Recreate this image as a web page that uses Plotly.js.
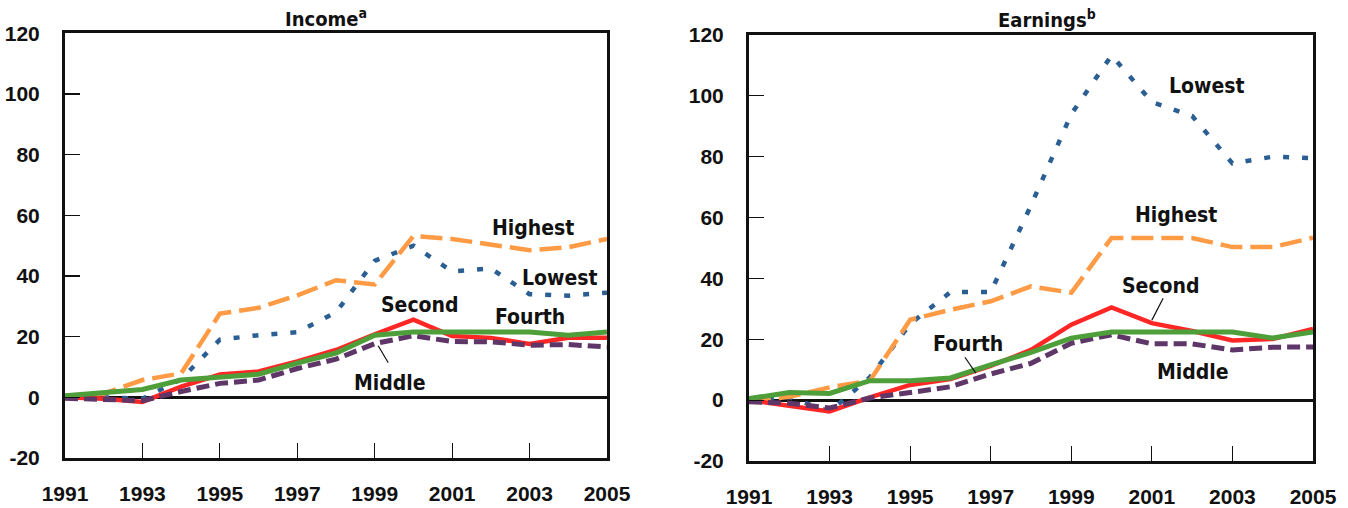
<!DOCTYPE html>
<html>
<head>
<meta charset="utf-8">
<script src="https://cdn.plot.ly/plotly-3.0.1.min.js"></script>
<style>html,body{margin:0;padding:0;background:#fff;}#chart{width:1348px;height:508px;}</style>
</head>
<body>
<div id="chart"></div>
<script>
const years = [1991,1992,1993,1994,1995,1996,1997,1998,1999,2000,2001,2002,2003,2004,2005];

// Income panel
const incomeLowest  = [0, 0, -0.5, 6, 19, 20.5, 21.5, 28, 45, 50, 41.5, 42.5, 34, 33.5, 34.5];
const incomeSecond  = [0, -0.5, -1.5, 3.5, 7.5, 8.5, 11.8, 15.6, 20.8, 25.6, 20.2, 19.6, 17.6, 19.6, 19.6];
const incomeMiddle  = [-0.3, -0.5, -1.1, 1.9, 4.6, 5.7, 9.5, 12.6, 17.7, 20.3, 18.4, 18.3, 17.2, 17.4, 16.6];
const incomeFourth  = [0.5, 1.5, 2.6, 5.7, 6.8, 7.6, 11.3, 14.6, 20.5, 21.5, 21.5, 21.5, 21.5, 20.5, 21.5];
const incomeHighest = [-0.3, 1.2, 5.7, 7.9, 27.6, 29.5, 33.6, 38.6, 37.2, 53.2, 52.2, 50.2, 48.5, 49.5, 52.2];

// Earnings panel
const earnLowest  = [0, 1, -3.8, 7.5, 25, 35.5, 35.5, 64, 94, 113.3, 98, 93.4, 77.8, 80, 79.5];
const earnSecond  = [0, -1.9, -3.7, 0.9, 5, 6.9, 11.3, 16.5, 24.8, 30.5, 25.3, 22.7, 19.6, 20.1, 23.4];
const earnMiddle  = [-0.5, -1, -2.6, 0.7, 2.5, 4.4, 8.6, 12.1, 18.7, 21.5, 18.5, 18.5, 16.5, 17.4, 17.5];
const earnFourth  = [0.5, 2.5, 2.2, 6.4, 6.4, 7.3, 11.6, 15.7, 20.4, 22.4, 22.4, 22.4, 22.4, 20.4, 22.4];
const earnHighest = [-0.5, 1.1, 4.2, 6.4, 26.4, 29.7, 32.5, 37.4, 35.3, 53.3, 53.3, 53.3, 50.3, 50.3, 53.4];

const yTicks = [-20, 0, 20, 40, 60, 80, 100, 120];
const xTicks = [1991, 1993, 1995, 1997, 1999, 2001, 2003, 2005];

const C = {
  lowest: '#2B5F94', highest: '#FF9A45', second: '#FF2626', fourth: '#4E9E3A', middle: '#5E3668'
};
const styles = {
  lowest:  {color: C.lowest,  width: 4.5, dash: '6px,13px'},
  highest: {color: C.highest, width: 4.5, dash: '22px,8px'},
  second:  {color: C.second,  width: 4.5, dash: 'solid'},
  middle:  {color: C.middle,  width: 5,   dash: '13px,6px'},
  fourth:  {color: C.fourth,  width: 5,   dash: 'solid'}
};

function tr(y, key, xa, ya) {
  return {x: years, y: y, type: 'scatter', mode: 'lines', line: styles[key],
          xaxis: xa, yaxis: ya, hoverinfo: 'skip', showlegend: false};
}

const data = [
  tr(incomeLowest, 'lowest', 'x', 'y'),
  tr(incomeHighest, 'highest', 'x', 'y'),
  tr(incomeSecond, 'second', 'x', 'y'),
  tr(incomeMiddle, 'middle', 'x', 'y'),
  tr(incomeFourth, 'fourth', 'x', 'y'),
  tr(earnLowest, 'lowest', 'x2', 'y2'),
  tr(earnHighest, 'highest', 'x2', 'y2'),
  tr(earnSecond, 'second', 'x2', 'y2'),
  tr(earnMiddle, 'middle', 'x2', 'y2'),
  tr(earnFourth, 'fourth', 'x2', 'y2')
];

const FONT = 'Liberation Sans Narrow, Arial Narrow, DejaVu Sans Condensed, sans-serif';
const TICKFONT = {family: 'Liberation Sans, Arial, sans-serif', size: 21, color: '#111', weight: 'bold'};

function xax(domain) {
  return {domain: domain, range: [1991, 2005], tickmode: 'array', tickvals: xTicks,
    ticktext: xTicks.map(String), ticks: 'inside', ticklen: 15, tickwidth: 1.2, tickcolor: '#111',
    showline: true, linewidth: 3, linecolor: '#111', mirror: true, showgrid: false, zeroline: false,
    tickfont: TICKFONT, ticklabelstandoff: 15, fixedrange: true};
}
function yax(domain, anchor) {
  return {domain: domain, range: [-20, 120], tickmode: 'array', tickvals: yTicks,
    ticktext: yTicks.map(String), ticks: 'inside', ticklen: 15, tickwidth: 1.2, tickcolor: '#111',
    showline: true, linewidth: 3, linecolor: '#111', mirror: true, showgrid: false,
    zeroline: true, zerolinecolor: '#111', zerolinewidth: 3, anchor: anchor,
    tickfont: TICKFONT, ticklabelstandoff: 18, fixedrange: true};
}

const W = 1348, H = 508;
function ann(text, x, y, xref, yref) {
  return {text: text, x: x, y: y, xref: xref, yref: yref, showarrow: false,
    xanchor: 'center', yanchor: 'middle',
    font: {family: FONT, size: 21, color: '#111', weight: 'bold'}};
}

const layout = {
  width: W, height: H,
  margin: {l: 0, r: 0, t: 0, b: 0},
  paper_bgcolor: '#fff', plot_bgcolor: '#fff',
  showlegend: false,
  xaxis: Object.assign(xax([65/W, 607/W]), {anchor: 'y'}),
  yaxis: yax([1 - 458/H, 1 - 33.3/H], 'x'),
  xaxis2: Object.assign(xax([749/W, 1313/W]), {anchor: 'y2'}),
  yaxis2: yax([1 - 461/H, 1 - 35/H], 'x2'),
  annotations: [
    {text: 'Income<sup>a</sup>', x: 326/W, y: 1 - 18/H, xref: 'paper', yref: 'paper', showarrow: false,
     xanchor: 'center', yanchor: 'middle',
     font: {family: FONT, size: 20, color: '#111', weight: 'bold'}},
    {text: 'Earnings<sup>b</sup>', x: 1047/W, y: 1 - 19/H, xref: 'paper', yref: 'paper', showarrow: false,
     xanchor: 'center', yanchor: 'middle',
     font: {family: FONT, size: 20, color: '#111', weight: 'bold'}},
    ann('Highest', 2003.09, 55.8, 'x', 'y'),
    ann('Lowest', 2003.79, 39.3, 'x', 'y'),
    ann('Second', 2000.17, 30.4, 'x', 'y'),
    ann('Fourth', 2003.01, 26.5, 'x', 'y'),
    ann('Middle', 1999.4, 4.7, 'x', 'y'),
    ann('Lowest', 2002.37, 103.2, 'x2', 'y2'),
    ann('Highest', 2001.6, 60.8, 'x2', 'y2'),
    ann('Second', 2001.23, 37.5, 'x2', 'y2'),
    ann('Fourth', 1996.44, 18.4, 'x2', 'y2'),
    ann('Middle', 2002.02, 9.2, 'x2', 'y2')
  ],
  shapes: [
    {type: 'line', xref: 'x', yref: 'y', x0: 1999.09, y0: 17.0, x1: 1999.35, y1: 11.4, line: {color: '#111', width: 1.2}},
    {type: 'line', xref: 'x2', yref: 'y2', x0: 2001.28, y0: 33.5, x1: 2001.0, y1: 26.3, line: {color: '#111', width: 1.2}},
    {type: 'line', xref: 'x2', yref: 'y2', x0: 1996.36, y0: 14.1, x1: 1996.63, y1: 8.9, line: {color: '#111', width: 1.2}}
  ]
};

Plotly.newPlot('chart', data, layout, {staticPlot: true, displayModeBar: false});
</script>
</body>
</html>
